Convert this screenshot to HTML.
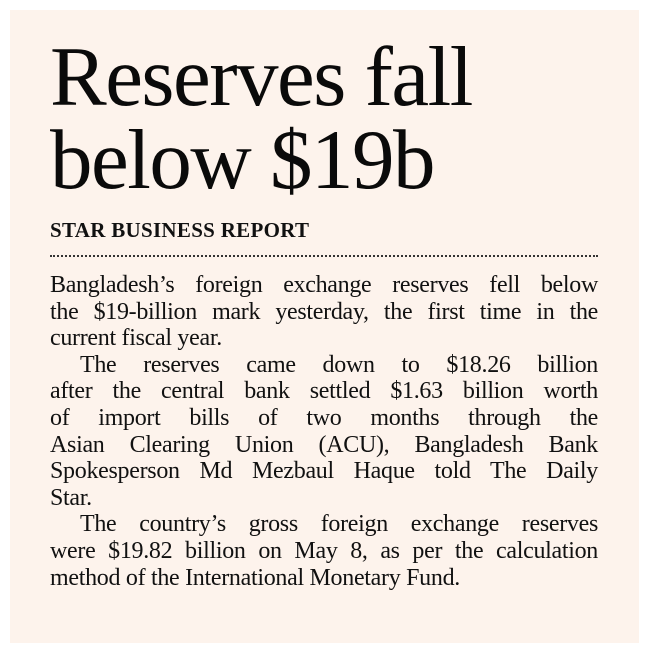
<!DOCTYPE html>
<html><head><meta charset="utf-8"><style>
html,body{margin:0;padding:0;background:#fff;width:649px;height:654px;overflow:hidden}
#box{position:absolute;left:10px;top:10px;width:629px;height:633px;background:#fdf3ec}
.h{position:absolute;left:50px;font-family:"Liberation Serif",serif;font-size:85px;color:#0a0a0a;letter-spacing:-1.5px;line-height:1;white-space:nowrap}
#by{position:absolute;left:50px;top:218px;font-family:"Liberation Serif",serif;font-weight:bold;font-size:21px;letter-spacing:0.3px;color:#111;white-space:nowrap}
#dots{position:absolute;left:50px;top:255px;width:548px;border-top:2px dotted #333}
#body{position:absolute;left:50px;top:272px;width:548px;font-family:"Liberation Serif",serif;font-size:24px;color:#111;letter-spacing:-0.3px}
.l{height:26.6px;line-height:26.6px;text-align:justify;text-align-last:justify;white-space:nowrap;overflow:visible}
.l.e{text-align-last:left}
.i{padding-left:30px}
</style></head><body>
<div id="box"></div>
<div class="h" style="top:35px">Reserves fall</div>
<div class="h" style="top:118px">below $19b</div>
<div id="by">STAR BUSINESS REPORT</div>
<div id="dots"></div>
<div id="body">
<div class="l">Bangladesh’s foreign exchange reserves fell below</div>
<div class="l">the $19-billion mark yesterday, the first time in the</div>
<div class="l e">current fiscal year.</div>
<div class="l i">The reserves came down to $18.26 billion</div>
<div class="l">after the central bank settled $1.63 billion worth</div>
<div class="l">of import bills of two months through the</div>
<div class="l">Asian Clearing Union (ACU), Bangladesh Bank</div>
<div class="l">Spokesperson Md Mezbaul Haque told The Daily</div>
<div class="l e">Star.</div>
<div class="l i">The country’s gross foreign exchange reserves</div>
<div class="l">were $19.82 billion on May 8, as per the calculation</div>
<div class="l e">method of the International Monetary Fund.</div>
</div>
</body></html>
